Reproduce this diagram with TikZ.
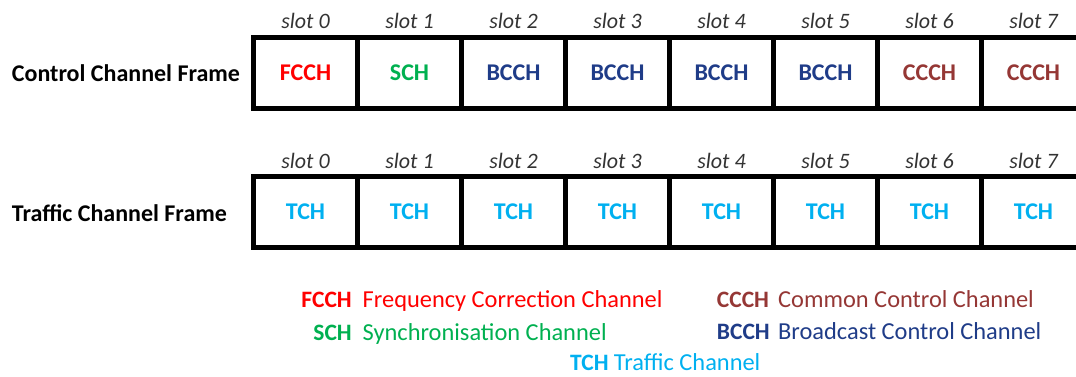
\documentclass[tikz,border=0pt]{standalone}
\usepackage{fontspec}
\setmainfont{Carlito}
\definecolor{fcch}{HTML}{FF0000}
\definecolor{sch}{HTML}{00B050}
\definecolor{bcch}{HTML}{1F3C88}
\definecolor{ccch}{HTML}{953735}
\definecolor{tch}{HTML}{00B0F0}
\tikzset{
  cell/.style={draw=black, line width=4.5pt, minimum width=104pt, minimum height=71pt, inner sep=0pt,
    font=\fontsize{24}{28}\selectfont\bfseries},
  slotlab/.style={anchor=base, inner sep=0pt, font=\fontsize{22}{26}\selectfont\itshape, text=black!80},
  rowlab/.style={anchor=base west, inner sep=0pt, font=\fontsize{24}{28}\selectfont\bfseries, text=black},
  abbr/.style={inner sep=0pt, font=\fontsize{23.5}{27}\selectfont\bfseries},
  desc/.style={inner sep=0pt, anchor=base west, font=\fontsize{24.4}{28}\selectfont},
}
\begin{document}
\begin{tikzpicture}[x=1pt,y=-1pt]
\path[use as bounding box] (0,0) rectangle (1076,376);
\clip (0,0) rectangle (1076,376);
% row labels
\node[rowlab] (lab1) at (11.7,81.7) {Control Channel Frame};
\node[rowlab] (lab2) at (11.7,221.7) {Traffic Channel Frame};
% control frame
\node[cell, text=fcch] (c0) at (305.5,73) {FCCH};
\node[cell, text=sch]  (c1) at (409.5,73) {SCH};
\node[cell, text=bcch] (c2) at (513.5,73) {BCCH};
\node[cell, text=bcch] (c3) at (617.5,73) {BCCH};
\node[cell, text=bcch] (c4) at (721.5,73) {BCCH};
\node[cell, text=bcch] (c5) at (825.5,73) {BCCH};
\node[cell, text=ccch] (c6) at (929.5,73) {CCCH};
\node[cell, text=ccch] (c7) at (1033.5,73) {CCCH};
% traffic frame
\foreach \i/\x in {0/305.5,1/409.5,2/513.5,3/617.5,4/721.5,5/825.5,6/929.5,7/1033.5}{
  \node[cell, text=tch] (t\i) at (\x,212) {TCH};
  \node[slotlab] (sc\i) at (\x,28.3) {slot \i};
  \node[slotlab] (st\i) at (\x,168.3) {slot \i};
}
% legend
\node[abbr, anchor=base east, text=fcch] (lf) at (352,307) {FCCH};
\node[desc, text=fcch] (lfd) at (362.5,307) {Frequency Correction Channel};
\node[abbr, anchor=base east, text=sch] (ls) at (352,340) {SCH};
\node[desc, text=sch] (lsd) at (362.5,340) {Synchronisation Channel};
\node[abbr, anchor=base west, text=tch] (lt) at (570,370.7) {TCH};
\node[desc, text=tch] (ltd) at ([xshift=5pt]lt.base east) {Traffic Channel};
\node[abbr, anchor=base west, text=ccch] (lc) at (716.7,307) {CCCH};
\node[desc, text=ccch] (lcd) at (778,307) {Common Control Channel};
\node[abbr, anchor=base west, text=bcch] (lb) at (716.7,339.5) {BCCH};
\node[desc, text=bcch] (lbd) at (778,339.5) {Broadcast Control Channel};
\end{tikzpicture}
\end{document}
